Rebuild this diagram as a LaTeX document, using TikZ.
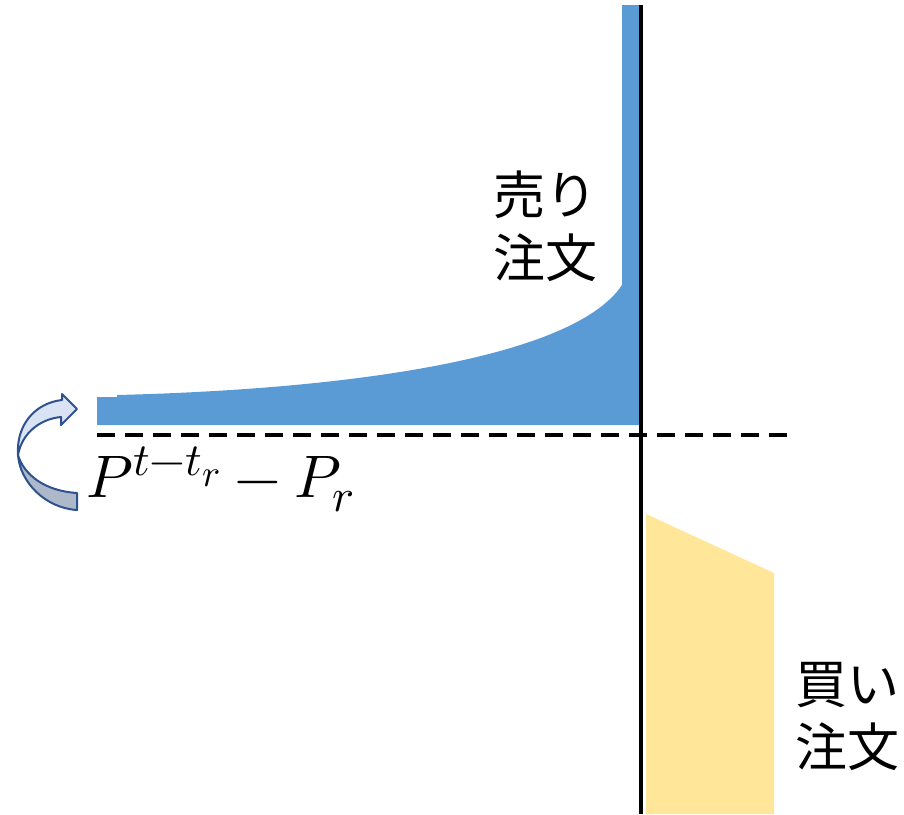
\documentclass[tikz,border=0pt]{standalone}
\usepackage{fontspec}
\usepackage{unicode-math}
\DeclareMathSizes{60}{60}{46}{38}
\newfontfamily\cjk{Noto Sans CJK JP}
\definecolor{sellblue}{RGB}{91,155,213}
\definecolor{buyyellow}{RGB}{255,230,153}
\definecolor{arrowedge}{RGB}{47,82,143}
\definecolor{arrowlight}{RGB}{218,227,243}
\definecolor{arrowgray}{RGB}{173,185,202}
\tikzset{
  jlabel/.style={font=\cjk\fontsize{52}{63}\selectfont, align=center, inner sep=0pt},
  arrowpart/.style={draw=arrowedge, line width=2pt, line join=round}
}
\begin{document}
\begin{tikzpicture}[x=1pt,y=-1pt]
\useasboundingbox (0,0) rectangle (904,814);
% sell side (blue)
\fill[sellblue] (97,425) -- (97,397) -- (117,397) -- (117,395)
  .. controls (360,389) and (575,356) .. (622,285)
  -- (622,5) -- (639.5,5) -- (639.5,425) -- cycle;
% buy side (yellow)
\fill[buyyellow] (646,514) -- (774,573) -- (774,814) -- (646,814) -- cycle;
% dashed price line
\draw[line width=3.5pt, dash pattern=on 18pt off 10pt] (97,435) -- (790,435);
% vertical axis
\draw[line width=4pt] (641,5) -- (641,814);
% labels
\node[jlabel] (sell) at (545,226) {売り\\注文};
\node[jlabel] (buy) at (847,716) {買い\\注文};
\node[anchor=base west, inner sep=0pt, font=\fontsize{60}{70}\selectfont] (formula) at (86,497) {$P^{t-t_r}\mathbin{-}P_r$};
% curved arrow: lower (gray) part
\filldraw[arrowpart, fill=arrowgray] (18,455)
  .. controls (20,482) and (45,508) .. (77,510)
  -- (77,493)
  .. controls (45,491) and (24,475) .. (18,455) -- cycle;
% curved arrow: upper (light) part with head
\filldraw[arrowpart, fill=arrowlight] (18,455)
  .. controls (16,425) and (35,403) .. (62,400)
  -- (62,394) -- (77,409) -- (61,425) -- (61,417)
  .. controls (40,419) and (22,433) .. (18,455) -- cycle;
\end{tikzpicture}
\end{document}
